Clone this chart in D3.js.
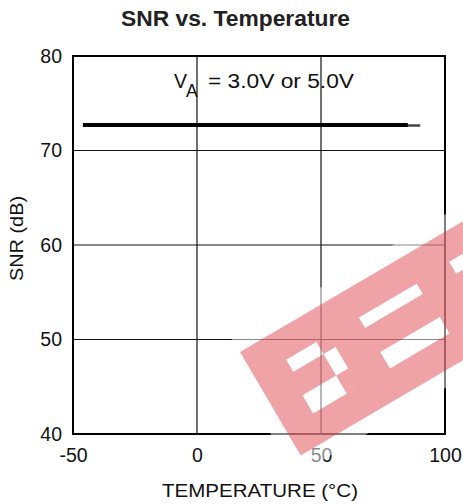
<!DOCTYPE html>
<html>
<head>
<meta charset="utf-8">
<script src="https://cdn.jsdelivr.net/npm/d3@7"></script>
<style>
  html, body { margin: 0; padding: 0; background: #fff; }
  svg text { font-family: "Liberation Sans", Arial, Helvetica, sans-serif; fill: #111; }
</style>
</head>
<body>
<svg id="chart" width="463" height="504"></svg>
<script>
// ---- data ----
const xTicks = [-50, 0, 50, 100];
const yTicks = [40, 50, 60, 70, 80];
const temp3V = [-46, -25, 0, 25, 50, 75, 90];
const snr3V  = [72.65, 72.65, 72.65, 72.65, 72.65, 72.65, 72.65];
const temp5V = [-46, -25, 0, 25, 50, 75, 85];
const snr5V  = [72.7, 72.7, 72.7, 72.7, 72.7, 72.7, 72.7];
const titleText = "SNR vs. Temperature";
const xLabel = "TEMPERATURE (°C)";
const yLabel = "SNR (dB)";

const svg = d3.select("#chart");
const x = d3.scaleLinear().domain([-50, 100]).range([73, 445]);
const y = d3.scaleLinear().domain([40, 80]).range([434, 56]);

// title
svg.append("text").attr("x", 121).attr("y", 26)
  .attr("textLength", 229).attr("lengthAdjust", "spacingAndGlyphs")
  .style("font-size", "21.5px").style("font-weight", "bold").style("fill", "#222").text(titleText);

// gridlines
const grid = svg.append("g");
grid.selectAll("line.v").data(xTicks.slice(1, -1)).join("line")
  .attr("x1", d => x(d)).attr("x2", d => x(d)).attr("y1", y(80)).attr("y2", y(40))
  .attr("stroke", "#111").attr("stroke-width", 1.2);
grid.selectAll("line.h").data(yTicks.slice(1, -1)).join("line")
  .attr("x1", x(-50)).attr("x2", x(100)).attr("y1", d => y(d)).attr("y2", d => y(d))
  .attr("stroke", "#111").attr("stroke-width", 1.2);

// axes
const fmt = d => String(d);
const xAxis = svg.append("g").attr("transform", `translate(0,${y(40)})`)
  .call(d3.axisBottom(x).tickValues(xTicks).tickSize(0).tickPadding(14).tickFormat(fmt));
const yAxis = svg.append("g").attr("transform", `translate(${x(-50)},0)`)
  .call(d3.axisLeft(y).tickValues(yTicks).tickSize(0).tickPadding(11).tickFormat(fmt));
[xAxis, yAxis].forEach(a => {
  a.select(".domain").remove();
  a.selectAll("text").style("font-size", "19.5px").style("fill", "#111").attr("font-family", null);
});
xAxis.selectAll("text").attr("dy", "0.70em");

// frame
svg.append("rect").attr("x", x(-50)).attr("y", y(80))
  .attr("width", x(100) - x(-50)).attr("height", y(40) - y(80))
  .attr("fill", "none").attr("stroke", "#000").attr("stroke-width", 2);

// axis titles
svg.append("text").attr("x", 162).attr("y", 497)
  .attr("textLength", 196).attr("lengthAdjust", "spacingAndGlyphs")
  .style("font-size", "19px").text(xLabel);
svg.append("text").attr("transform", "translate(23,281) rotate(-90)")
  .attr("textLength", 85).attr("lengthAdjust", "spacingAndGlyphs")
  .style("font-size", "18.5px").text(yLabel);

// annotation
svg.append("text").attr("x", 174).attr("y", 88).style("font-size", "19.5px").text("V");
svg.append("text").attr("x", 186).attr("y", 97).style("font-size", "17.5px").text("A");
svg.append("text").attr("x", 208).attr("y", 88)
  .attr("textLength", 146).attr("lengthAdjust", "spacingAndGlyphs")
  .style("font-size", "19.5px").text("= 3.0V or 5.0V");

// data lines
const line = d3.line().x(d => x(d[0])).y(d => y(d[1]));
svg.append("path").datum(d3.zip(temp3V, snr3V)).attr("d", line)
  .attr("fill", "none").attr("stroke", "#444").attr("stroke-width", 2.5);
svg.append("path").datum(d3.zip(temp5V, snr5V)).attr("d", line)
  .attr("fill", "none").attr("stroke", "#000").attr("stroke-width", 3.8);

// watermark (decorative)
const wm = svg.append("g").attr("transform", "translate(240,352) rotate(-30.4)");
wm.append("rect").attr("x", -15).attr("y", -15).attr("width", 460).attr("height", 150)
  .attr("fill", "#fff").attr("opacity", 0.5);
const holes = [
  [36, 30, 49, 14], [71, 30, 14, 60], [32, 69, 53, 21],
  [120, 30.5, 67, 12], [121, 71, 69, 19], [226, 28, 64, 14]
];
let p = "M0,0H430V120H0Z";
holes.forEach(h => { p += `M${h[0]},${h[1]}h${h[2]}v${h[3]}h${-h[2]}Z`; });
wm.append("path").attr("d", p).attr("fill-rule", "evenodd")
  .attr("fill", "rgb(220,50,60)").attr("opacity", 0.45);
</script>
</body>
</html>
